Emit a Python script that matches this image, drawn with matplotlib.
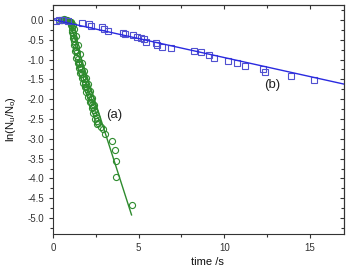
import matplotlib
matplotlib.use("Agg")
import matplotlib.pyplot as plt
from matplotlib.ticker import MultipleLocator

plt.rcParams['font.family'] = ['Liberation Sans', 'DejaVu Sans']

# Series (b): blue squares
b_x = [0.16, 0.35, 0.6, 0.9, 1.67, 2.10, 2.20, 2.88, 2.97, 3.23, 4.10, 4.20, 4.65, 4.92,
       5.17, 5.30, 5.42, 6.00, 6.08, 6.34, 6.92, 8.22, 8.67, 9.10, 9.39, 10.22,
       10.75, 11.20, 12.26, 12.36, 13.88, 15.22]
b_y = [-0.02, 0.0, -0.01, -0.02, -0.08, -0.11, -0.15, -0.19, -0.24, -0.29, -0.32, -0.35,
       -0.38, -0.42, -0.46, -0.49, -0.55, -0.59, -0.63, -0.67, -0.72, -0.78, -0.82,
       -0.88, -0.97, -1.03, -1.09, -1.15, -1.24, -1.32, -1.42, -1.52]
b_fit_x = [0.0, 17.0]
b_fit_y = [0.01, -1.62]

# Series (a): green circles
a_x = [0.35, 0.45, 0.55, 0.62, 0.70, 0.78, 0.85, 0.92, 0.98, 1.03, 1.07, 1.10, 1.14,
       1.17, 1.20, 1.23, 1.26, 1.29, 1.32, 1.36, 1.39, 1.42, 1.46, 1.50, 1.54, 1.58,
       1.62, 1.66, 1.70, 1.75, 1.80, 1.85, 1.90, 1.95, 2.00, 2.05, 2.10, 2.15, 2.20,
       2.25, 2.30, 2.35, 2.40, 2.45, 2.50, 2.55, 2.60, 2.64, 2.80, 2.93, 3.03, 3.46,
       3.62, 3.67, 3.69, 4.59,
       1.12, 1.18, 1.24, 1.30, 1.37, 1.44, 1.52, 1.60, 1.68, 1.77, 1.86, 1.96, 2.06,
       2.16, 2.26, 2.36, 2.46, 2.56,
       1.08, 1.16, 1.25, 1.34, 1.45, 1.56, 1.67, 1.79, 1.91, 2.03, 2.15, 2.28, 2.40]
a_y = [0.0, 0.01, 0.0, 0.02, 0.01, 0.0, 0.0, -0.02, -0.04, -0.08, -0.13, -0.18, -0.25,
       -0.32, -0.38, -0.45, -0.52, -0.60, -0.67, -0.75, -0.82, -0.90, -0.98, -1.05,
       -1.12, -1.18, -1.25, -1.31, -1.37, -1.43, -1.50, -1.56, -1.62, -1.68, -1.74,
       -1.80, -1.87, -1.94, -2.00, -2.07, -2.14, -2.20, -2.27, -2.33, -2.40, -2.48,
       -2.55, -2.60, -2.70, -2.76, -2.87, -3.05, -3.27, -3.56, -3.97, -4.66,
       -0.30, -0.45, -0.62, -0.78, -0.95, -1.08, -1.22, -1.35, -1.46, -1.58, -1.70,
       -1.82, -1.95, -2.08, -2.22, -2.35, -2.50, -2.62,
       -0.05, -0.12, -0.22, -0.40, -0.62, -0.86, -1.08, -1.28, -1.46, -1.62, -1.80,
       -1.98, -2.14]
a_fit_x = [1.0, 4.59]
a_fit_y = [-0.09, -4.92]

xticks = [0, 5, 10, 15]
yticks = [0.0, -0.5, -1.0, -1.5, -2.0, -2.5, -3.0, -3.5, -4.0, -4.5, -5.0]

blue = '#2a2ae0'
green = '#2e8b2e'

fig = plt.figure(figsize=(3.48, 2.72), dpi=100)
ax = fig.add_axes([0.152, 0.140, 0.837, 0.842])

ax.plot(a_x, a_y, linestyle='none', marker='o', markersize=4.4, markerfacecolor='none',
        markeredgecolor=green, markeredgewidth=0.8)
ax.plot(a_fit_x, a_fit_y, color=green, linewidth=1.0)
ax.plot(b_x, b_y, linestyle='none', marker='s', markersize=4.0, markerfacecolor='none',
        markeredgecolor='#5050d0', markeredgewidth=0.8)
ax.plot(b_fit_x, b_fit_y, color=blue, linewidth=1.0)

ax.text(3.6, -2.4, '(a)', fontsize=9.5, ha='center', va='center', color='#222222')
ax.text(12.8, -1.64, '(b)', fontsize=9.5, ha='center', va='center', color='#222222')

ax.set_xlim(0, 17)
ax.set_ylim(-5.4, 0.38)
ax.set_xticks(xticks)
ax.set_yticks(yticks)
ax.set_yticklabels([f'{v:.1f}' for v in yticks])
ax.xaxis.set_minor_locator(MultipleLocator(2.5))
ax.yaxis.set_minor_locator(MultipleLocator(0.25))
ax.tick_params(which='both', direction='out', labelsize=7, colors='#333333', width=0.8)
ax.tick_params(which='major', length=3)
ax.tick_params(which='minor', length=2)

for s in ax.spines.values():
    s.set_linewidth(0.8)
    s.set_color('#333333')

secx = ax.secondary_xaxis('top')
secx.set_xticks(xticks)
secx.xaxis.set_minor_locator(MultipleLocator(2.5))
secx.tick_params(which='both', direction='in', labeltop=False, colors='#333333', width=0.8)
secx.tick_params(which='major', length=3)
secx.tick_params(which='minor', length=2)
secy = ax.secondary_yaxis('right')
secy.set_yticks(yticks)
secy.yaxis.set_minor_locator(MultipleLocator(0.25))
secy.tick_params(which='both', direction='in', labelright=False, colors='#333333', width=0.8)
secy.tick_params(which='major', length=3)
secy.tick_params(which='minor', length=2)
for sa in (secx, secy):
    for s in sa.spines.values():
        s.set_linewidth(0.8)
        s.set_color('#333333')

ax.set_xlabel('time /s', fontsize=8, color='#111111')
ax.xaxis.set_label_coords(0.53, -0.1)
ax.set_ylabel(r'ln(N$_\mathregular{u}$/N$_\mathregular{o}$)', fontsize=8, color='#111111')
ax.yaxis.set_label_coords(-0.12, 0.5)

fig.savefig('out.png', dpi=100)
